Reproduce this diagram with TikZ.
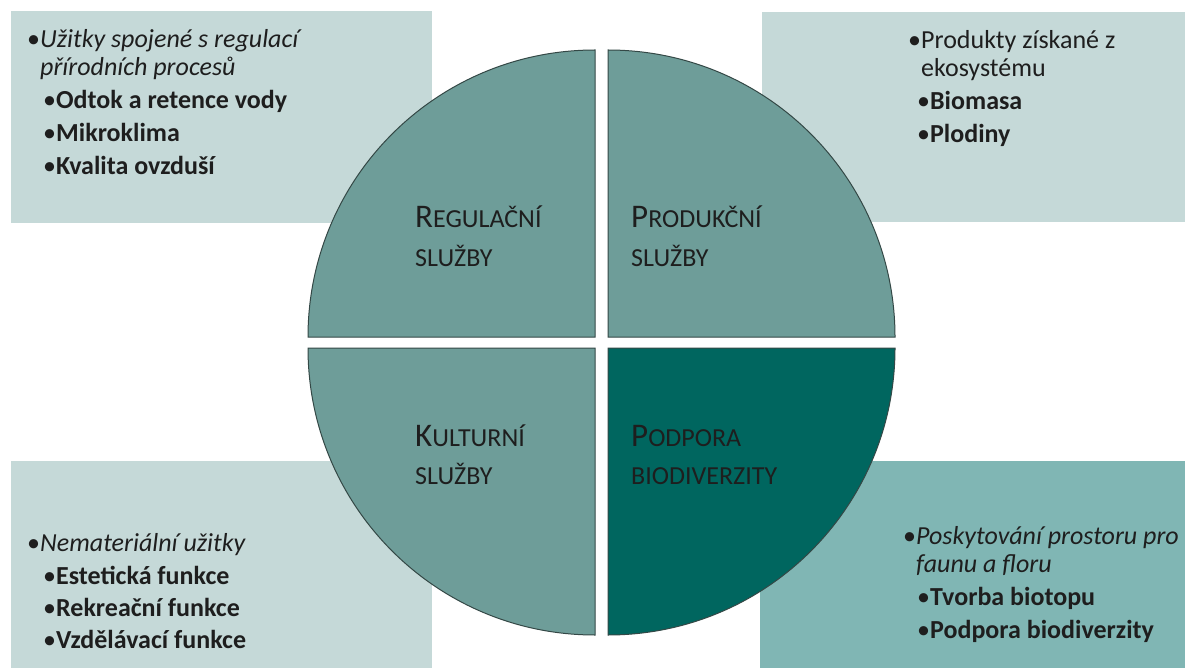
\documentclass[tikz,border=0pt]{standalone}
\usepackage{fontspec}
\setmainfont{Carlito}
\usepackage{tikz}

\definecolor{boxlight}{HTML}{C5D9D8}
\definecolor{boxmid}{HTML}{80B6B4}
\definecolor{quadfill}{HTML}{6E9D99}
\definecolor{quaddark}{HTML}{00665F}
\definecolor{quadedge}{HTML}{344846}
\definecolor{ink}{HTML}{1E1E1E}

\newcommand{\quadrant}[5]{
	\draw [line width=1pt,draw=quadedge,fill=#4] (#1,#2) -- ++(#3:287) arc [start angle=#3, end angle=#3+90, radius=287] -- cycle;
	\coordinate (#5) at (#1,#2);
}
\newcommand{\capsc}[2]{{\fontsize{33}{33}\selectfont #1}{\fontsize{26}{26}\selectfont #2}}
\newcommand{\smsc}[1]{{\fontsize{26}{26}\selectfont #1}}
\newcommand{\lvl}{\hspace*{16pt}\textbullet}

\tikzset{
	listtext/.style={anchor=base west,align=left,inner sep=0pt,text=ink,font=\fontsize{26}{28}\selectfont},
	quadlabel/.style={anchor=base west,align=left,inner sep=0pt,text=ink}
}

\begin{document}
\begin{tikzpicture}[x=1pt,y=1pt]
\useasboundingbox (0,0) rectangle (1185,-668);
\fill [white] (0,0) rectangle (1185,-668);

\fill [boxlight] (11,-11) rectangle (432,-223);
\fill [boxlight] (762,-12) rectangle (1185,-222);
\fill [boxlight] (11,-461) rectangle (432,-668);
\fill [boxmid] (760,-461) rectangle (1185,-668);

\quadrant{595}{-337}{90}{quadfill}{regq}
\quadrant{608}{-337}{0}{quadfill}{prodq}
\quadrant{595}{-348}{180}{quadfill}{kultq}
\quadrant{608}{-348}{270}{quaddark}{biodq}

\node [quadlabel] (reg1) at (415,-228) {\capsc{R}{EGULAČNÍ}};
\node [quadlabel] (reg2) at (415,-266) {\smsc{SLUŽBY}};
\node [quadlabel] (prod1) at (631,-228) {\capsc{P}{RODUKČNÍ}};
\node [quadlabel] (prod2) at (631,-266) {\smsc{SLUŽBY}};
\node [quadlabel] (kult1) at (415,-446) {\capsc{K}{ULTURNÍ}};
\node [quadlabel] (kult2) at (415,-484) {\smsc{SLUŽBY}};
\node [quadlabel] (biod1) at (631,-446) {\capsc{P}{ODPORA}};
\node [quadlabel] (biod2) at (631,-484) {\smsc{BIODIVERZITY}};

% base anchor sits on the last line
\node [listtext] (regtext) at (27,-175) {
	\textbullet\textit{Užitky spojené s regulací}\\
	\hphantom{\textbullet}\textit{přírodních procesů}\\[5pt]
	\lvl\textbf{Odtok a retence vody}\\[5pt]
	\lvl\textbf{Mikroklima}\\[5pt]
	\lvl\textbf{Kvalita ovzduší}
};
\node [listtext] (prodtext) at (908,-143) {
	\textbullet Produkty získané z\\
	\hphantom{\textbullet}ekosystému\\[5pt]
	\hspace*{9pt}\textbullet\textbf{Biomasa}\\[5pt]
	\hspace*{9pt}\textbullet\textbf{Plodiny}
};
\node [listtext] (kulttext) at (27,-648) {
	\textbullet\textit{Nemateriální užitky}\\[5pt]
	\lvl\textbf{Estetická funkce}\\[4pt]
	\lvl\textbf{Rekreační funkce}\\[4pt]
	\lvl\textbf{Vzdělávací funkce}
};
\node [listtext] (biodtext) at (903,-638) {
	\textbullet\textit{Poskytování prostoru pro}\\
	\hphantom{\textbullet}\textit{faunu a floru}\\[5pt]
	\hspace*{14pt}\textbullet\textbf{Tvorba biotopu}\\[5pt]
	\hspace*{14pt}\textbullet\textbf{Podpora biodiverzity}
};
\end{tikzpicture}
\end{document}
